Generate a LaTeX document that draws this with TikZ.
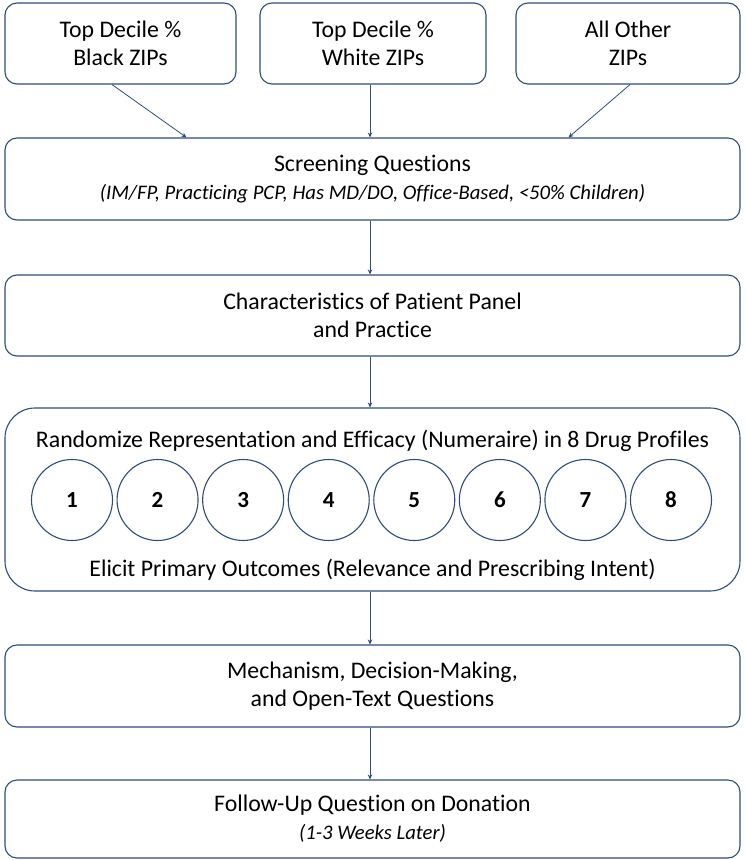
\documentclass[tikz,border=0pt]{standalone}
\usepackage{fontspec}
\setmainfont{Carlito}[Ligatures=NoCommon]
\usetikzlibrary{arrows.meta,calc}
\definecolor{navy}{RGB}{47,75,125}
\newcommand{\notefont}{\fontsize{20.7}{28}\selectfont\itshape}

\begin{document}
\begin{tikzpicture}[x=1pt,y=-1pt,
    box/.style={draw=navy, line width=1.1pt, rounded corners=12pt, align=center,
        inner sep=0pt, font=\fontsize{23.8}{28}\selectfont},
    drug/.style={draw=navy, line width=1.1pt, circle, minimum size=81pt, inner sep=0pt,
        font=\fontsize{23}{24}\selectfont\bfseries},
    flow/.style={draw=navy, line width=0.8pt, -{Stealth[length=5pt,width=4.5pt]}}]
    \useasboundingbox (0,0) rectangle (745,860);

    % sources
    \node[box, minimum width=231pt, minimum height=81pt] (blk) at (120.5,43.5) {Top Decile \%\\Black ZIPs};
    \node[box, minimum width=226pt, minimum height=81pt] (wht) at (373,43.5) {Top Decile \%\\White ZIPs};
    \node[box, minimum width=224pt, minimum height=81pt] (oth) at (628,43.5) {All Other\\ZIPs};

    % main steps
    \node[box, minimum width=735pt, minimum height=82pt] (scr) at (372.5,179)
        {Screening Questions\\{\notefont(IM/FP, Practicing PCP, Has MD/DO, Office-Based, <50\% Children)}};
    \node[box, minimum width=735pt, minimum height=81pt] (pan) at (372.5,315.5) {Characteristics of Patient Panel\\and Practice};
    \node[box, rounded corners=30pt, minimum width=735pt, minimum height=183pt] (rnd) at (372.5,499.5) {};
    \node[anchor=base] (rtop) at (372.5,447) {\fontsize{23.8}{28}\selectfont Randomize Representation and Efficacy (Numeraire) in 8 Drug Profiles};
    \node[anchor=base] (rbot) at (372.5,576) {\fontsize{23.8}{28}\selectfont Elicit Primary Outcomes (Relevance and Prescribing Intent)};
    \foreach \i in {1,...,8}
        \node[drug] (d\i) at ({72+85.57*(\i-1)},500) {\i};
    \node[box, minimum width=735pt, minimum height=82pt] (mec) at (372.5,686) {Mechanism, Decision-Making,\\and Open-Text Questions};
    \node[box, minimum width=735pt, minimum height=78pt] (fol) at (372.5,819)
        {Follow-Up Question on Donation\\{\notefont(1-3 Weeks Later)}};

    % connectors
    \draw[flow] ([xshift=-8.5pt]blk.south) -- ([xshift=-186pt]scr.north);
    \draw[flow] ([xshift=-3pt]wht.south) -- ([xshift=-2.5pt]scr.north);
    \draw[flow] ([xshift=2pt]oth.south) -- ([xshift=196pt]scr.north);
    \draw[flow] ([xshift=-2.5pt]scr.south) -- ([xshift=-2.5pt]pan.north);
    \draw[flow] ([xshift=-2.5pt]pan.south) -- ([xshift=-2.5pt]rnd.north);
    \draw[flow] ([xshift=-2.5pt]rnd.south) -- ([xshift=-2.5pt]mec.north);
    \draw[flow] ([xshift=-2.5pt]mec.south) -- ([xshift=-2.5pt]fol.north);
\end{tikzpicture}
\end{document}
